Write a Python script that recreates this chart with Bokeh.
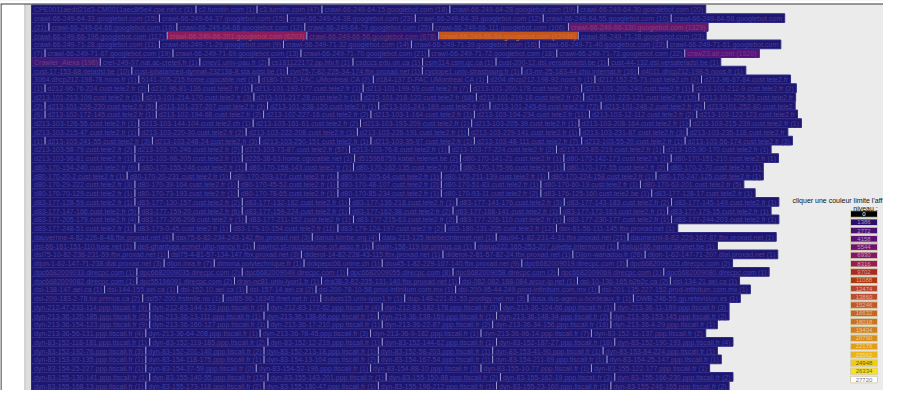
from bokeh.plotting import figure
from bokeh.models import Range1d, ColumnDataSource
from bokeh.embed import file_html
from bokeh.resources import INLINE
from bokeh.core.properties import value

# ---------------- data: rows of "host (hits)" cells, as laid out on the page ----------------
ROWS = [
    ["CPE0011aedd21d3-CM0011aec8f5e4.cpe.net.c (1)", "c2.turnitin.com (1)", "c3.turnitin.com (47)",
     "crawl-66-249-64-15.googlebot.com (18)", "crawl-66-249-64-28.googlebot.com (19)", "crawl-66-249-64-30.googlebot.com (20)"],
    ["crawl-66-249-64-33.googlebot.com (15)", "crawl-66-249-64-37.googlebot.com (15)", "crawl-66-249-64-38.googlebot.com (23)",
     "crawl-66-249-64-39.googlebot.com (12)", "crawl-66-249-64-55.googlebot.com (10)", "crawl-66-249-64-58.googlebot.com"],
    ["(21)", "crawl-66-249-64-66.googlebot.com (16)", "crawl-66-249-64-68.googlebot.com (12)", "crawl-66-249-64-79.googlebot.com (25)",
     "crawl-66-249-66-111.googlebot.com (106)", "crawl-66-249-66-130.googlebot.com (1329)"],
    ["crawl-66-249-66-196.googlebot.com (117)", "crawl-66-249-66-201.googlebot.com (6203)", "crawl-66-249-66-56.googlebot.com (678)",
     "crawl-66-249-66-84.googlebot.com (12946)", "crawl-66-249-71-18.googlebot.com (23)"],
    ["crawl-66-249-71-28.googlebot.com (11)", "crawl-66-249-71-29.googlebot.com (9)", "crawl-66-249-71-32.googlebot.com (14)",
     "crawl-66-249-71-39.googlebot.com (16)", "crawl-66-249-71-40.googlebot.com (23)", "crawl-66-249-71-61.googlebot.com"],
    ["(7)", "crawl-66-249-71-67.googlebot.com (19)", "crawl-66-249-71-69.googlebot.com (13)", "crawl-66-249-71-70.googlebot.com (21)",
     "crawl-66-249-71-72.googlebot.com (18)", "crawl-66-249-71-73.googlebot.com (22)", "craw23.alr.com (1520)"],
    ["Crawler_Alexa (198)", "cret-249-97.nat.ac-creteil.fr (1)", "cnev1.univ-pau.fr (2)", "cs181122172.pp.htv.fi (1)",
     "csdccs.edu.on.ca (1)", "csm114.csm.qc.ca (1)", "cust-200-12.dsl.versateladsl.be (1)", "cust-44-132.dsl.versateladsl.be (1)"],
    ["cust-17-153-68.deladsl.be (10)", "cust-ipbalanced-dynnat-232136-8.sta.adsl.be (1)", "cvn75-7-82-225-34-174.fbx.proxad.net (1)",
     "cyclope1.univ-strasbourg.fr (1)", "d3-mr-25-183-44.chu.internat.fr (16)", "d4011.dhcp212-198-5.noos.fr (1)"],
    ["3064.dhcp212-198-78.noos.fr (1)", "5141-205-215.home.cgocable.net (1)", "d180-170.D-FAC.UMontreal.CA (2)",
     "d184-137.D-FAC.UMontreal.CA (1)", "d204.dhcp212-198-92.noos.fr (1)", "d212-152-25-73.cust.tele2.ch (2)", "d212-96-67-84.cust.tele2.fr"],
    ["(1)", "d212-96-76-224.cust.tele2.fr (2)", "d212-96-81-136.cust.tele2.fr (1)", "d213-101-193-177.cust.tele2.fr (1)",
     "d213-101-199-59.cust.tele2.fr (7)", "d213-101-200-178.cust.tele2.fr (3)", "d213-101-200-240.cust.tele2.fr (1)", "d213-101-212-9.cust.tele2.fr (2)"],
    ["d213-101-213-109.cust.tele2.fr (1)", "d213-101-214-170.cust.tele2.fr (3)", "d213-101-217-28.cust.tele2.fr (1)",
     "d213-101-218-122.cust.tele2.fr (68)", "d213-101-219-18.cust.tele2.fr (2)", "d213-101-223-121.cust.tele2.fr (13)", "d213-101-225-53.cust.tele2.fr"],
    ["(2)", "d213-101-226-230.cust.tele2.fr (5)", "d213-101-237-207.cust.tele2.fr (3)", "d213-101-238-120.cust.tele2.fr (1)",
     "d213-101-241-189.cust.tele2.fr (1)", "d213-101-245-69.cust.tele2.fr (72)", "d213-101-248-2.cust.tele2.fr (2)", "d213-101-252-80.cust.tele2"],
    ["(6)", "d213-102-172-145.cust.tele2.fr (1)", "d213-102-194-68.cust.tele2.fr (2)", "d213-102-227-16.cust.tele2.fr (2)",
     "d213-103-1-164.cust.tele2.fr (1)", "d213-103-104-234.cust.tele2.fr (11)", "d213-103-12-112.cust.tele2.fr (2)", "d213-103-122-123.cust.tele2.fr"],
    ["d213-103-126-55.cust.tele2.fr (1)", "d213-103-144-104.cust.tele2.ch (1)", "d213-103-161-61.cust.tele2.fr (2)",
     "d213-103-193-209.cust.tele2.fr (1)", "d213-103-205-39.cust.tele2.fr (1)", "d213-103-208-164.cust.tele2.fr (1)", "d213-103-215-239.cust.tele2.fr (1)"],
    ["d213-103-215-47.cust.tele2.fr (1)", "d213-103-220-30.cust.tele2.fr (2)", "d213-103-222-208.cust.tele2.fr (1)",
     "d213-103-226-191.cust.tele2.fr (1)", "d213-103-229-141.cust.tele2.fr (1)", "d213-103-231-87.cust.tele2.fr (3)", "d213-103-235-118.cust.tele2.fr"],
    ["(1)", "d213-103-241-55.cust.tele2.fr (3)", "d213-103-248-24.cust.tele2.fr (3)", "d213-103-250-151.cust.tele2.fr (1)",
     "d213-103-35-97.cust.tele2.fr (1)", "d213-103-48-111.cust.tele2.fr (7)", "d213-103-55-20.cust.tele2.fr (1)", "d213-103-56-174.cust.tele2.fr (3)"],
    ["d213-103-58-79.cust.tele2.fr (2)", "d213-103-70-246.cust.tele2.fr (2)", "d213-103-73-87.cust.tele2.fr (57)",
     "d213-103-76-8.cust.tele2.fr (1)", "d213-103-77-224.cust.tele2.fr (2)", "d213-103-85-219.cust.tele2.fr (1)", "d213-103-90-170.cust.tele2.fr (1)"],
    ["d213-103-96-81.cust.tele2.fr (1)", "d213-103-98-205.cust.tele2.fr (1)", "d226-38-63.home.cgocable.net (1)",
     "d515968759.kabel.telenet.be (2)", "d80-170-141-21.cust.tele2.fr (1)", "d80-170-142-173.cust.tele2.fr (1)", "d80-170-151-210.cust.tele2.fr (1)"],
    ["d80-170-154-240.cust.tele2.fr (9)", "d80-170-155-246.cust.tele2.fr (1)", "d80-170-158-143.cust.tele2.fr (1)",
     "d80-170-162-135.cust.tele2.fr (2)", "d80-170-175-96.cust.tele2.fr (1)", "d80-170-177-55.cust.tele2.fr (2)", "d80-170-2-70.cust.tele2.fr (1)"],
    ["d80-170-20-2.cust.tele2.fr (1)", "d80-170-20-231.cust.tele2.fr (1)", "d80-170-203-177.cust.tele2.fr (1)",
     "d80-170-205-64.cust.tele2.fr (1)", "d80-170-211-139.cust.tele2.fr (1)", "d80-170-224-158.cust.tele2.fr (1)", "d80-170-247-125.cust.tele2.fr (1)"],
    ["d80-170-29-222.cust.tele2.fr (3)", "d80-170-39-164.cust.tele2.fr (1)", "d80-170-45-52.cust.tele2.fr (1)",
     "d80-170-48-107.cust.tele2.fr (2)", "d80-170-51-83.cust.tele2.fr (1)", "d80-170-60-19.cust.tele2.fr (1)", "d80-170-63-201.cust.tele2.fr (5)"],
    ["d80-170-70-129.cust.tele2.fr (1)", "d80-170-73-193.cust.tele2.fr (1)", "d80-170-78-65.cust.tele2.fr (1)",
     "d80-170-85-234.cust.tele2.fr (1)", "d80-170-93-11.cust.tele2.fr (2)", "d83-176-125-160.cust.tele2.be (1)", "d83-177-128-17.cust.tele2.fr (1)"],
    ["d83-177-128-59.cust.tele2.fr (1)", "d83-177-130-157.cust.tele2.fr (2)", "d83-177-132-162.cust.tele2.fr (1)",
     "d83-177-136-218.cust.tele2.fr (1)", "d83-177-141-176.cust.tele2.fr (3)", "d83-177-143-183.cust.tele2.fr (2)", "d83-177-145-149.cust.tele2.fr (1)"],
    ["d83-177-147-166.cust.tele2.fr (5)", "d83-177-159-20.cust.tele2.fr (6)", "d83-177-159-224.cust.tele2.fr (1)",
     "d83-177-162-38.cust.tele2.fr (2)", "d83-177-168-141.cust.tele2.fr (1)", "d83-177-172-163.cust.tele2.fr (1)", "d83-177-179-15.cust.tele2.fr (1)"],
    ["d83-177-205-179.cust.tele2.fr (4)", "d83-177-206-206.cust.tele2.fr (1)", "d83-177-211-152.cust.tele2.fr (1)",
     "d83-177-215-63.cust.tele2.fr (2)", "d83-177-226-110.cust.tele2.fr (1)", "d83-177-230-177.cust.tele2.fr (1)", "d83-177-244-203.cust.tele2.fr (1)"],
    ["d83-177-248-51.cust.tele2.fr (1)", "d83-179-0-45.cust.tele2.fr (1)", "d83-179-10-154.cust.tele2.fr (11)",
     "d83-179-124-197.cust.tele2.fr (2)", "d83-180-131-205.cust.tele2.fr (12)", "dax-81-56-111-145.fbx.proxad.net (1)"],
    ["dauvernne-4-82-226-8-48.fbx.proxad.net (4)", "dax75-6-82-234-243-142.fbx.proxad.net (3)", "danus.kimbe.org (4)",
     "data-213-125.telebecinternet.net (1)", "dau94-1-82-231-4-31.fbx.proxad.net (21)", "daumesnil-8-82-229-167-87.fbx.proxad.net (1)"],
    ["dsl-66-161-151-110.fuse.net (1)", "dell-ghanbaja.ecmet.uhp-nancy.fr (1)", "davinci.st-rousseaume.ort.asso.fr (1)",
     "dialin-158-119.tor.primus.ca (1)", "dialup222.165-253-207.joliette.intermond (1)", "dialup186.namur.skynet.be (1)"],
    ["dsl75-10-82-238-231-59.fbx.proxad.net (1)", "dsl75-4-81-57-134-147.fbx.proxad.net (3)", "diderot-14-82-228-43-115.fbx.proxad.net (1)",
     "diderot-2-81-57-82-24.fbx.proxad.net (1)", "Dijon-wanadoo.fr (26)", "dijon-1-62-147-71-207.dial.proxad.net (1)"],
    ["dijon-1-62-147-71-238.dial.proxad.net (3)", "dijon.inra.fr (7)", "dimona.polytechnique.fr (1)", "dokpepc06.unine.ch (1)",
     "dou45-1-82-229-107-140.fbx.proxad.net (9)", "dpc6682009019.direcpc.com (3)", "dpc6682009023.direcpc.com (2)"],
    ["dpc6682009033.direcpc.com (1)", "dpc6682009035.direcpc.com (2)", "dpc6682009049.direcpc.com (1)", "dpc6682009055.direcpc.com (8)",
     "dpc6682009058.direcpc.com (2)", "dpc6682009069.direcpc.com (1)", "dpc6682009080.direcpc.com (1)"],
    ["dpc6682009082.direcpc.com (1)", "dpc55196091.direcpc.com (2)", "dran-nc81.univ-lyon1.fr (1)", "dra38-3-82-235-131-140.fbx.proxad.net (1)",
     "dsl-082-082-188-084.arcor-ip.net (1)", "dsl-10-136-165.b2b2c.ca (2)", "dsl-134-21.aei.ca (1)"],
    ["dsl-138-147.aei.ca (1)", "dsl-144-155.aei.ca (1)", "dsl-152-10.aei.ca (1)", "dsl-157-14.aei.ca (2)",
     "dsl-200-78-10-58.prod-infinitum.com.mx (1)", "dsl-200-95-44-249.prod-infinitum.com.mx (1)", "dsl-201-135-227-152.prod-infinitum.com.mx (1)"],
    ["dsl-209-183-2-78.tor.primus.ca (2)", "dsl57-200.frstmile.no (1)", "dsl85-96-16345.ttnet.net.tr (1)", "dubois15.univ-lyon1.fr (1)",
     "dup-148-221-81-53.prodigy.net.mx (3)", "dusa.dus-agen.u-bordeaux.fr (1)", "DWB-246-55.gp.retevision.es (1)"],
    ["dyn-212-47-233-114.ppp.tiscali.fr (9)", "dyn-212-83-144-133.ppp.tiscali.fr (1)", "dyn-212-83-172-62.ppp.tiscali.fr (4)",
     "dyn-212-83-182-178.ppp.tiscali.fr (3)", "dyn-213-36-104-66.ppp.tiscali.fr (1)", "dyn-213-36-11-189.ppp.tiscali.fr (3)"],
    ["dyn-213-36-120-185.ppp.tiscali.fr (2)", "dyn-213-36-13-111.ppp.tiscali.fr (1)", "dyn-213-36-138-66.ppp.tiscali.fr (1)",
     "dyn-213-36-138-169.ppp.tiscali.fr (1)", "dyn-213-36-148-34.ppp.tiscali.fr (2)", "dyn-213-36-153-145.ppp.tiscali.fr (2)"],
    ["dyn-213-36-154-123.ppp.tiscali.fr (9)", "dyn-213-36-160-127.ppp.tiscali.fr (1)", "dyn-213-36-17-210.ppp.tiscali.fr (1)",
     "dyn-213-36-22-87.ppp.tiscali.fr (2)", "dyn-213-36-34-156.ppp.tiscali.fr (16)", "dyn-213-36-4-29.ppp.tiscali.fr (1)"],
    ["dyn-213-36-56-131.ppp.tiscali.fr (4)", "dyn-213-36-64-208.ppp.tiscali.fr (1)", "dyn-213-36-78-45.ppp.tiscali.fr (3)",
     "dyn-213-36-9-182.ppp.tiscali.fr (1)", "dyn-213-36-96-14.ppp.tiscali.fr (7)", "dyn-83-152-11-137.ppp.tiscali.fr (2)"],
    ["dyn-83-152-118-181.ppp.tiscali.fr (1)", "dyn-83-152-119-185.ppp.tiscali.fr (2)", "dyn-83-152-12-219.ppp.tiscali.fr (1)",
     "dyn-83-152-144-62.ppp.tiscali.fr (1)", "dyn-83-152-187-27.ppp.tiscali.fr (16)", "dyn-83-152-190-193.ppp.tiscali.fr (4)"],
    ["dyn-83-152-192-76.ppp.tiscali.fr (3)", "dyn-83-152-201-140.ppp.tiscali.fr (2)", "dyn-83-152-213-18.ppp.tiscali.fr (1)",
     "dyn-83-152-58-203.ppp.tiscali.fr (1)", "dyn-83-153-41-90.ppp.tiscali.fr (1)", "dyn-83-153-84-224.ppp.tiscali.fr (1)"],
    ["dyn-83-153-92-135.ppp.tiscali.fr (1)", "dyn-83-154-118-175.ppp.tiscali.fr (1)", "dyn-83-154-13-104.ppp.tiscali.fr (2)",
     "dyn-83-154-167-54.ppp.tiscali.fr (1)", "dyn-83-154-211-69.ppp.tiscali.fr (1)", "dyn-83-154-25-147.ppp.tiscali.fr (1)"],
    ["dyn-83-154-25-227.ppp.tiscali.fr (1)", "dyn-83-154-37-59.ppp.tiscali.fr (2)", "dyn-83-154-52-196.ppp.tiscali.fr (1)",
     "dyn-83-154-88-10.ppp.tiscali.fr (3)", "dyn-83-155-10-77.ppp.tiscali.fr (1)", "dyn-83-155-122-177.ppp.tiscali.fr (1)"],
    ["dyn-83-155-130-141.ppp.tiscali.fr (1)", "dyn-83-155-140-55.ppp.tiscali.fr (15)", "dyn-83-155-143-201.ppp.tiscali.fr (1)",
     "dyn-83-155-150-88.ppp.tiscali.fr (2)", "dyn-83-155-162-19.ppp.tiscali.fr (3)", "dyn-83-155-166-230.ppp.tiscali.fr (2)"],
    ["dyn-83-155-168-13.ppp.tiscali.fr (1)", "dyn-83-155-173-118.ppp.tiscali.fr (2)", "dyn-83-155-180-47.ppp.tiscali.fr (1)",
     "dyn-83-155-196-212.ppp.tiscali.fr (1)", "dyn-83-155-23-160.ppp.tiscali.fr (1)", "dyn-83-155-246-165.ppp.tiscali.fr (2)"],
]

# cells whose background is not the default (heavier traffic)
HIGHLIGHT = {
    "crawl-66-249-66-130.googlebot.com (1329)": "#66166e",
    "crawl-66-249-66-201.googlebot.com (6203)": "#8c1c5e",
    "crawl-66-249-66-56.googlebot.com (678)": "#2c1270",
    "crawl-66-249-66-84.googlebot.com (12946)": "#c4561c",
    "craw23.alr.com (1520)": "#52137a",
    "Crawler_Alexa (198)": "#3c1878",
}

# colour legend ("niveau")
LEVELS = ["0", "1386", "2772", "4158", "5544", "6930", "8316", "9702", "11088", "12474", "13860",
          "15246", "16632", "18018", "19404", "20790", "22176", "23562", "24948", "26334", "27720"]
LEVEL_COLORS = ["#000000", "#2c0e6c", "#451072", "#5a1076", "#6e1272", "#82166a", "#981c58", "#a82a20",
                "#b0380e", "#b4442c", "#bc4c30", "#c25828", "#c86422", "#cc721e", "#d07e1c", "#d88e1c",
                "#e09e1a", "#eab418", "#f2cc14", "#f8e218", "#ffffff"]

LEGEND_TITLE = "cliquer une couleur limite l'aff"
LEGEND_SUB = "niveau :"

# ---------------- layout helpers ----------------
_W = {' ': 278, '(': 333, ')': 333, '-': 333, '.': 278, '_': 556, "'": 191, ':': 278}
for ch in "0123456789":
    _W[ch] = 556
_W.update(dict(zip("abcdefghijklmnopqrstuvwxyz",
                   [556, 556, 500, 556, 556, 278, 556, 556, 222, 222, 500, 222, 833, 556, 556, 556, 556, 333, 500, 278, 556, 500, 722, 500, 500, 500])))
_W.update(dict(zip("ABCDEFGHIJKLMNOPQRSTUVWXYZ",
                   [667, 667, 722, 722, 667, 611, 778, 722, 278, 500, 667, 556, 833, 722, 778, 667, 778, 722, 667, 611, 722, 667, 944, 667, 667, 611])))

FS = 7.0          # font size, px
PAD = 5.0         # border + padding per cell
X0 = 39.0         # left of first cell
Y0 = 12.5         # top of first row
PITCH = 8.75      # row pitch


def text_w(s):
    return sum(_W.get(c, 556) for c in s) * FS / 1000.0


def hexrgb(c):
    c = c.lstrip('#')
    return [int(c[i:i + 2], 16) for i in (0, 2, 4)]


def mix(c1, c2, t):
    a, b = hexrgb(c1), hexrgb(c2)
    return "#%02x%02x%02x" % tuple(int(round(a[i] * (1 - t) + b[i] * t)) for i in range(3))


BASE = "#1c166e"

L, R, T, B, FILL, TXT, TX, TY, LAB = [], [], [], [], [], [], [], [], []
SX, SY0, SY1 = [], [], []
for k, row in enumerate(ROWS):
    x = X0
    top = Y0 + k * PITCH
    for j, lab in enumerate(row):
        w = text_w(lab) + PAD
        col = HIGHLIGHT.get(lab, BASE)
        L.append(x); R.append(x + w); T.append(top); B.append(top + PITCH)
        FILL.append(col)
        TXT.append(mix(col, "#9a82ee", 0.36) if col == BASE else mix(col, "#ffb08a", 0.25))
        TX.append(x + 2.5); TY.append(top + PITCH / 2 + 0.4); LAB.append(lab)
        if j > 0:
            SX.append(x); SY0.append(top + 0.6); SY1.append(top + PITCH - 0.6)
        x += w

# ---------------- figure ----------------
WIDTH, HEIGHT = 883, 390
p = figure(width=WIDTH, height=HEIGHT, x_range=Range1d(8, 8 + WIDTH), y_range=Range1d(8 + HEIGHT, 8),
           output_backend="svg", toolbar_location=None, min_border=0,
           x_axis_location=None, y_axis_location=None)
p.grid.visible = False
p.outline_line_color = None
p.background_fill_color = "#ebebeb"
p.border_fill_color = "white"

# page furniture: white strip on top, white side panel, grey gutter, dark frame lines
p.quad(left=8, right=8 + WIDTH, top=8, bottom=11.5, fill_color="white", line_color=None)
p.quad(left=8, right=31.5, top=11.5, bottom=8 + HEIGHT, fill_color="white", line_color=None)
p.quad(left=31.5, right=38.5, top=11.5, bottom=8 + HEIGHT, fill_color="#dddddd", line_color=None)
p.segment(x0=[32.5], y0=[11.5], x1=[32.5], y1=[8 + HEIGHT], line_color="#c8c8c8", line_width=1)
p.segment(x0=[8], y0=[11.5], x1=[8 + WIDTH], y1=[11.5], line_color="#3a3a3a", line_width=1.2)
p.segment(x0=[8.5], y0=[11.5], x1=[8.5], y1=[8 + HEIGHT], line_color="#3a3a3a", line_width=1.2)

cells = ColumnDataSource(dict(left=L, right=R, top=T, bottom=B, fill=FILL, txt=TXT, tx=TX, ty=TY, lab=LAB))
p.quad(left="left", right="right", top="top", bottom="bottom", fill_color="fill", source=cells,
       line_color="#302c86", line_width=1)
p.segment(x0=SX, y0=SY0, x1=SX, y1=SY1, line_color="#9e9cd2", line_width=1)
p.text(x="tx", y="ty", text="lab", source=cells, text_color="txt", text_font=value("Liberation Sans"),
       text_font_size="7px", text_baseline="middle", text_align="left")

# legend
LX0, LX1 = 858.0, 885.0
LY0, LPITCH, LH = 221.5, 8.28, 6.6
lc = [LY0 + i * LPITCH for i in range(len(LEVELS))]
ltxt = []
for i, c in enumerate(LEVEL_COLORS):
    if i == 0:
        ltxt.append("#ffffff")
    elif i == len(LEVEL_COLORS) - 1:
        ltxt.append("#7474a4")
    elif i >= 18:
        ltxt.append(mix(c, "#000000", 0.55))
    else:
        ltxt.append(mix(c, "#ffffff", 0.55))
leg = ColumnDataSource(dict(top=[c - LH / 2 for c in lc], bottom=[c + LH / 2 for c in lc],
                            fill=LEVEL_COLORS, y=lc, lab=LEVELS, tc=ltxt))
p.quad(left=LX0, right=LX1, top="top", bottom="bottom", fill_color="fill", line_color="#d6cfb0",
       line_width=1, source=leg)
p.text(x=(LX0 + LX1) / 2, y="y", text="lab", text_color="tc", source=leg, text_font=value("Liberation Sans"),
       text_font_size="6px", text_align="center", text_baseline="middle")

p.text(x=[800], y=[207.5], text=[LEGEND_TITLE], text_font=value("Liberation Sans"), text_font_size="7px",
       text_color="#111111", text_baseline="middle", text_align="left")
p.text(x=[873], y=[215.5], text=[LEGEND_SUB], text_font=value("Liberation Sans"), text_font_size="7px",
       text_color="#111111", text_baseline="middle", text_align="center")

open("out.html", "w").write(file_html(p, INLINE))
